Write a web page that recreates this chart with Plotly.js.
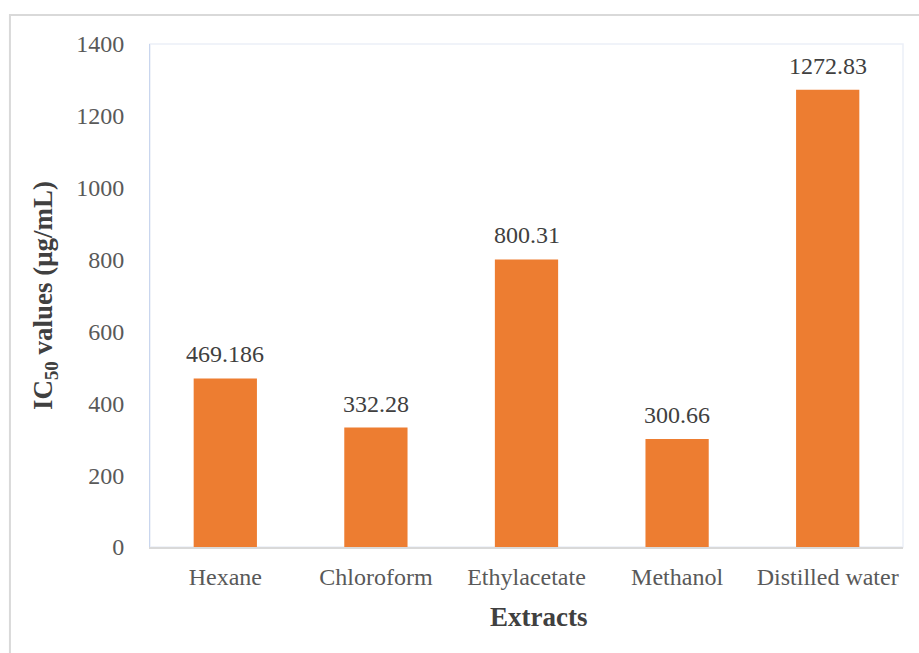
<!DOCTYPE html>
<html>
<head>
<meta charset="utf-8">
<script src="https://cdn.plot.ly/plotly-3.0.1.min.js"></script>
<style>html,body{margin:0;padding:0;background:#fff;}#chart{width:919px;height:653px;}</style>
</head>
<body>
<div id="chart"></div>
<script>
const categories = ["Hexane", "Chloroform", "Ethylacetate", "Methanol", "Distilled water"];
const icValues = [469.186, 332.28, 800.31, 300.66, 1272.83];
const valueLabels = ["469.186", "332.28", "800.31", "300.66", "1272.83"];
const yTicks = [0, 200, 400, 600, 800, 1000, 1200, 1400];
const xTitle = 'Extracts';
const yTitle = 'IC<sub>50</sub> values (μg/mL)';

const FONT = 'Liberation Serif, Times New Roman, serif';

const trace = {
  type: 'bar',
  x: categories,
  y: icValues,
  marker: {color: '#ED7D31', line: {width: 0}},
  hoverinfo: 'none'
};

const annotations = categories.map((c, i) => ({
  x: c, y: icValues[i], xref: 'x', yref: 'y',
  text: valueLabels[i], showarrow: false,
  yanchor: 'bottom', yshift: 9,
  font: {family: FONT, size: 24, color: '#404040'}
}));
annotations.push({
  x: 0.5166, y: -0.139, xref: 'paper', yref: 'paper',
  xanchor: 'center', yanchor: 'middle', showarrow: false,
  text: '<b>' + xTitle + '</b>',
  font: {family: FONT, size: 27, color: '#404040'}
});

const layout = {
  width: 919, height: 653,
  margin: {l: 150, r: 16, t: 44, b: 106},
  paper_bgcolor: '#fff', plot_bgcolor: '#fff',
  bargap: 0.58,
  showlegend: false,
  font: {family: FONT, color: '#595959'},
  xaxis: {
    showline: true, linecolor: '#d9d9d9', linewidth: 2,
    ticks: '', ticklabelstandoff: 7,
    tickfont: {size: 24, color: '#595959'}
  },
  yaxis: {
    range: [0, 1400], tickvals: yTicks, ticktext: yTicks.map(String),
    showgrid: false, zeroline: false,
    showline: true, linecolor: '#c9d6ee', linewidth: 1,
    ticks: '', ticklabelstandoff: 20,
    tickfont: {size: 24, color: '#595959'},
    title: {text: '<b>' + yTitle + '</b>', font: {size: 27, color: '#404040'}, standoff: 15}
  },
  annotations: annotations,
  shapes: [
    {type: 'rect', xref: 'paper', yref: 'paper', x0: 0, x1: 1, y0: 0, y1: 1,
     line: {color: '#eceff8', width: 1.5}, fillcolor: 'rgba(0,0,0,0)', layer: 'below'},
    {type: 'rect', xref: 'paper', yref: 'paper', x0: -0.186, x1: 1.2, y0: -0.4, y1: 1.0577,
     line: {color: '#d9d9d9', width: 2}, fillcolor: 'rgba(0,0,0,0)', layer: 'below'}
  ]
};

Plotly.newPlot('chart', [trace], layout, {displayModeBar: false, staticPlot: true});
</script>
</body>
</html>
